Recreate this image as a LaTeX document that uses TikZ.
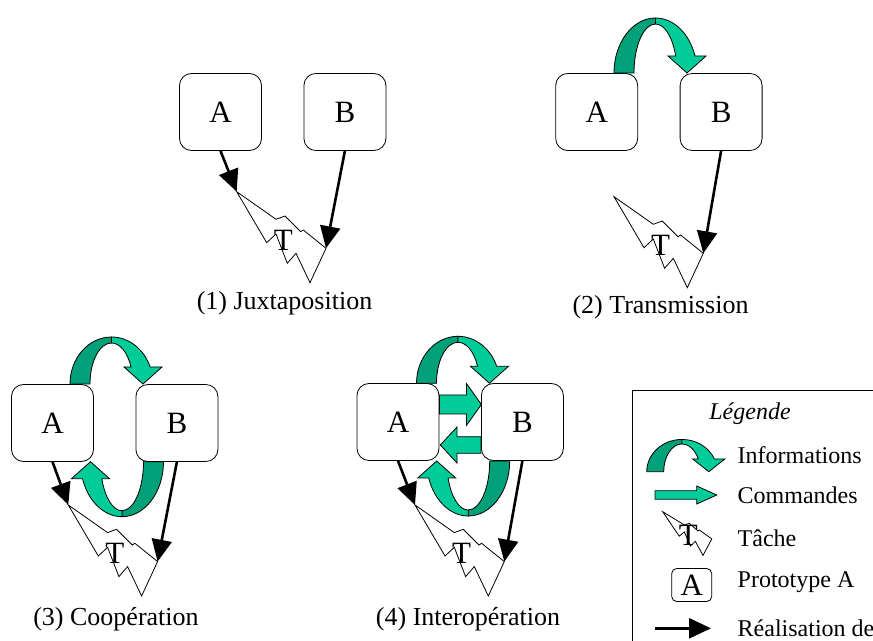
\documentclass[tikz,border=0pt]{standalone}
\usepackage{fontspec}
\setmainfont{Liberation Serif}
\usepackage{tikz}
\usetikzlibrary{arrows.meta}
\usetikzlibrary{calc}
\usetikzlibrary{positioning}
\usetikzlibrary{backgrounds}

\definecolor{infodark}{HTML}{00A078}
\definecolor{infolight}{HTML}{00CC99}

\tikzset{
  proto/.style={draw, rounded corners=6pt, fill=white, inner sep=0pt,
    minimum width=41pt, minimum height=38.5pt, font=\fontsize{15.5}{17}\selectfont},
  bolt/.style={draw, line width=.4pt, fill=white},
  real/.style={line width=1.3pt, -{Triangle[length=11pt,width=10pt]}},
  infod/.style={draw, line width=.4pt, fill=infodark},
  infol/.style={draw, line width=.4pt, fill=infolight},
  cmd/.style={draw, line width=.4pt, fill=infolight},
  lbl/.style={inner sep=0pt, font=\fontsize{15.5}{17}\selectfont},
  caption/.style={font=\fontsize{13}{15}\selectfont},
  legtext/.style={anchor=west, inner sep=0pt, font=\fontsize{12}{14}\selectfont}
}

% fleche courbe (informations), origine au pied, #2 = hauteur
\newcommand\info[2][]{%
  \begin{scope}[#1]
    \pgfmathsetmacro\eo{360-asin(17/#2)}
    \pgfmathsetmacro\ei{360-asin(17/(#2-6))}
    \filldraw[infod] (-41.5,0) arc[start angle=180, end angle=270, x radius=41.5, y radius=#2]
      -- (0,{-(#2-6)}) arc[start angle=270, end angle=180, x radius=21.5, y radius=#2-6] -- cycle;
    \filldraw[infol] (0,-#2) arc[start angle=270, end angle=\eo, x radius=41.5, y radius=#2]
      -- (50.5,-17) -- (31.5,0) -- (12.5,-17)
      -- ({21.5*cos(\ei)},{(#2-6)*sin(\ei)})
      arc[start angle=\ei, end angle=270, x radius=21.5, y radius=#2-6] -- cycle;
  \end{scope}}

% fleche droite (commandes): depart, long. corps, long. tete, demi-corps, demi-tete
\newcommand\cmdarrow[5]{%
  \filldraw[cmd] #1 ++(0,-#4) -- ++(#2,0) -- ++(0,{-(#5-#4)}) -- ++(#3,#5)
    -- ++({-1*(#3)},#5) -- ++(0,{-(#5-#4)}) -- ++({-1*(#2)},0) -- cycle;}

% tache (eclair T), #2 = nom, #3 = pointe gauche
\newcommand\tache[3][]{%
  \begin{scope}[shift={#3}, #1]
    \draw[bolt] (0,0) coordinate (#2-l) -- (39.3,27.6) -- (48.3,24.3) -- (64,40)
      -- (66.6,38.3) -- (89.3,56.6) coordinate (#2-r) -- (73.3,91) -- (59.3,61.6)
      -- (50.6,71.6) -- (39.3,42.3) -- (30,51) -- cycle;
    \node[lbl] (#2-t) at (46.6,48.3) {T};
  \end{scope}}

\begin{document}
\begin{tikzpicture}[x=0.5pt, y=-0.5pt]

  \useasboundingbox (0,0) rectangle (873,641);
  \clip (0,0) rectangle (873,641);

  % (1) Juxtaposition
  \node[proto] (a1) at (220.5,112) {A};
  \node[proto] (b1) [right=20.8pt of a1] {B};
  \tache{t1}{(236.7,191.7)}
  \draw[real] (a1.south) -- (t1-l);
  \draw[real] (b1.south) -- (t1-r);
  \node[caption] (c1) at (284.5,303) {(1) Juxtaposition};

  % (2) Transmission
  \info[shift={(655.5,73)}]{55}
  \node[proto] (a2) at (596.7,112) {A};
  \node[proto] (b2) [right=20.8pt of a2] {B};
  \tache{t2}{(614,196.7)}
  \draw[real] (b2.south) -- (t2-r);
  \node[caption] (c2) at (660.5,307) {(2) Transmission};

  % (3) Cooperation
  \info[shift={(111.5,384)}]{47}
  \info[shift={(122,461.7)}, rotate=180]{55}
  \node[proto] (a3) at (52.5,423) {A};
  \node[proto] (b3) [right=20.8pt of a3] {B};
  \tache{t3}{(68.3,505)}
  \draw[real] (a3.south) -- (t3-l);
  \draw[real] (b3.south) -- (t3-r);
  \node[caption] (c3) at (116,619) {(3) Coopération};

  % (4) Interoperation
  \info[shift={(458,383.3)}]{47}
  \info[shift={(468.2,461)}, rotate=180]{55}
  \node[proto] (a4) at (398,422) {A};
  \node[proto] (b4) [right=20.8pt of a4] {B};
  \cmdarrow{($(a4.east)+(0,-17.5)$)}{27}{15}{9.5}{21}
  \cmdarrow{($(b4.west)+(0,23)$)}{-24}{-16.7}{8.3}{18}
  \tache{t4}{(415,505)}
  \draw[real] (a4.south) -- (t4-l);
  \draw[real] (b4.south) -- (t4-r);
  \node[caption] (c4) at (468,619) {(4) Interopération};

  % legende
  \draw[line width=.5pt] (632,391) rectangle (900,700);
  \node[font=\itshape\fontsize{12}{14}\selectfont] (leg) at (750,413.3) {Légende};
  \info[shift={(682,471.7)}, xscale=.85, yscale=.75]{43}
  \cmdarrow{(655,495)}{41.7}{20}{4.2}{9}
  \tache[xscale=.55, yscale=.48]{tl}{(662.7,511.7)}
  \node[proto, minimum width=20pt, minimum height=16.5pt, rounded corners=2.5pt] (lp) at (691.7,585) {A};
  \coordinate (lr1) at (655,628.3);
  \coordinate (lr2) at (711,628.3);
  \draw[real] (lr1) -- (lr2);
  \node[legtext] (l1) at (737.3,455) {Informations};
  \node[legtext] (l2) at (737.3,495) {Commandes};
  \node[legtext] (l3) at (737.3,538.3) {Tâche};
  \node[legtext] (l4) at (737.3,581.7) {Prototype A};
  \node[legtext] (l5) at (737.3,628.3) {Réalisation de};

\end{tikzpicture}
\end{document}
